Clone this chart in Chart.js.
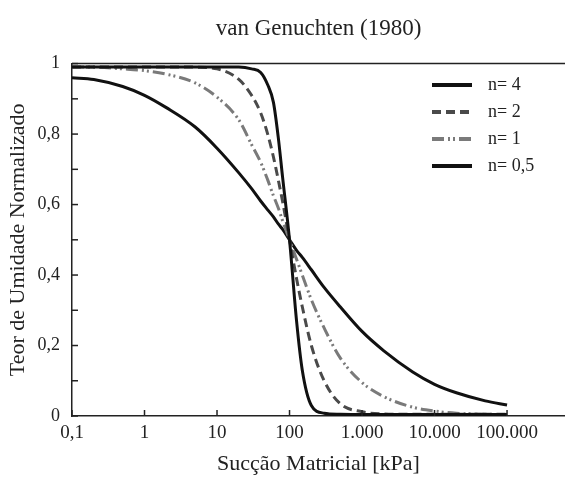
<!DOCTYPE html>
<html>
<head>
<meta charset="utf-8">
<script src="https://cdn.jsdelivr.net/npm/chart.js@4.4.1/dist/chart.umd.min.js"></script>
<style>
  html, body { margin: 0; padding: 0; background: #fff; }
  #wrap { width: 565px; height: 477px; }
</style>
</head>
<body>
<div id="wrap"><canvas id="myChart" width="565" height="477"></canvas></div>
<script>

// sucção matricial [kPa]
var suction = [0.1, 0.2, 0.5, 1, 2, 5, 10, 20, 30, 40, 50, 60, 70, 80, 100, 125, 150, 200, 300, 500, 1000, 2000, 5000, 10000, 20000, 50000, 100000];

// teor de umidade normalizado
var n4  = [0.99, 0.99, 0.99, 0.99, 0.99, 0.99, 0.99, 0.99, 0.985, 0.975, 0.94, 0.89, 0.79, 0.68, 0.50, 0.27, 0.13, 0.03, 0.008, 0.005, 0.004, 0.004, 0.004, 0.004, 0.004, 0.004, 0.004];
var n2  = [0.99, 0.99, 0.99, 0.99, 0.99, 0.99, 0.985, 0.955, 0.91, 0.86, 0.80, 0.735, 0.67, 0.61, 0.50, 0.39, 0.31, 0.20, 0.10, 0.035, 0.012, 0.006, 0.005, 0.005, 0.005, 0.005, 0.005];
var n1  = [0.99, 0.99, 0.985, 0.98, 0.97, 0.945, 0.905, 0.84, 0.77, 0.72, 0.67, 0.625, 0.59, 0.555, 0.50, 0.445, 0.40, 0.33, 0.25, 0.165, 0.095, 0.055, 0.025, 0.014, 0.008, 0.005, 0.004];
var n05 = [0.96, 0.955, 0.935, 0.91, 0.875, 0.82, 0.76, 0.69, 0.645, 0.61, 0.585, 0.565, 0.545, 0.53, 0.50, 0.47, 0.45, 0.415, 0.365, 0.31, 0.24, 0.185, 0.125, 0.09, 0.066, 0.043, 0.031];

var seriesLabels = ['n= 4', 'n= 2', 'n= 1', 'n= 0,5'];

var xTickValues = [0.1, 1, 10, 100, 1000, 10000, 100000];
var xTickLabels = ['0,1', '1', '10', '100', '1.000', '10.000', '100.000'];
var yTickValues = [0, 0.2, 0.4, 0.6, 0.8, 1];
var yTickLabels = ['0', '0,2', '0,4', '0,6', '0,8', '1'];

var serif = "'Liberation Serif', 'Times New Roman', serif";

function pts(values){
  return suction.map(function(s, i){ return { x: s, y: values[i] }; });
}

// marcas internas dos eixos, linha superior e legenda
var framePlugin = {
  id: 'frame',
  afterDatasetsDraw: function(chart){
    var ctx = chart.ctx;
    var area = chart.chartArea;
    var xs = chart.scales.x;
    var ys = chart.scales.y;

    ctx.save();
    ctx.strokeStyle = '#222';
    ctx.lineWidth = 1.5;

    // linha superior
    ctx.beginPath();
    ctx.moveTo(area.left, area.top);
    ctx.lineTo(area.right, area.top);
    ctx.stroke();

    // ticks x
    xs.ticks.forEach(function(t){
      var px = xs.getPixelForValue(t.value);
      ctx.beginPath();
      ctx.moveTo(px, area.bottom);
      ctx.lineTo(px, area.bottom - 6);
      ctx.stroke();
    });

    // ticks y
    ys.ticks.forEach(function(t){
      var py = ys.getPixelForValue(t.value);
      ctx.beginPath();
      ctx.moveTo(area.left, py);
      ctx.lineTo(area.left + 6, py);
      ctx.stroke();
    });

    // legenda
    var lx = 432, ly = 85, step = 27;
    chart.data.datasets.forEach(function(ds, i){
      var y = ly + i * step;
      ctx.save();
      ctx.strokeStyle = ds.borderColor;
      ctx.lineWidth = 4;
      ctx.setLineDash(ds.borderDash || []);
      ctx.beginPath();
      ctx.moveTo(lx, y);
      ctx.lineTo(lx + 40, y);
      ctx.stroke();
      ctx.restore();

      ctx.fillStyle = '#222';
      ctx.font = "18px " + serif;
      ctx.textBaseline = 'middle';
      ctx.textAlign = 'left';
      ctx.fillText(ds.label, lx + 56, y);
    });

    ctx.restore();
  }
};

var ctx = document.getElementById('myChart');
var chart = new Chart(ctx, {

  type: 'line',

  data: {
    datasets: [{
      label: seriesLabels[0],
      data: pts(n4),
      borderColor: '#111',
      borderWidth: 3
    }, {
      label: seriesLabels[1],
      data: pts(n2),
      borderColor: '#4a4a4a',
      borderWidth: 3,
      borderDash: [9, 5]
    }, {
      label: seriesLabels[2],
      data: pts(n1),
      borderColor: '#7a7a7a',
      borderWidth: 3,
      borderDash: [12, 4, 2, 3, 2, 4]
    }, {
      label: seriesLabels[3],
      data: pts(n05),
      borderColor: '#111',
      borderWidth: 3
    }]
  },

  options: {
    responsive: false,
    animation: false,
    layout: { padding: 0 },
    elements: {
      point: { radius: 0 },
      line: { cubicInterpolationMode: 'monotone', fill: false }
    },
    plugins: {
      legend: { display: false },
      tooltip: { enabled: false },
      title: {
        display: true,
        fullSize: false,
        text: 'van Genuchten (1980)',
        color: '#222',
        font: { family: serif, size: 23, weight: 'normal', lineHeight: 1.2 },
        padding: { top: 15, bottom: 21 }
      }
    },
    scales: {
      x: {
        type: 'logarithmic',
        min: 0.1,
        max: 630000,
        afterBuildTicks: function(scale){
          scale.ticks = xTickValues.map(function(v){ return { value: v }; });
        },
        afterFit: function(scale){ scale.height = 61; },
        grid: { display: false, drawTicks: false },
        border: { display: true, color: '#222', width: 1.5 },
        ticks: {
          autoSkip: false,
          maxRotation: 0,
          padding: 6,
          color: '#222',
          font: { family: serif, size: 19 },
          callback: function(value){
            var i = xTickValues.indexOf(value);
            return i >= 0 ? xTickLabels[i] : '';
          }
        },
        title: {
          display: true,
          text: 'Sucção Matricial [kPa]',
          color: '#222',
          font: { family: serif, size: 22, lineHeight: 1.2 },
          padding: { top: 0, bottom: 0 }
        }
      },
      y: {
        min: 0,
        max: 1,
        afterFit: function(scale){ scale.width = 72; },
        grid: { display: false, drawTicks: false },
        border: { display: true, color: '#222', width: 1.5 },
        ticks: {
          stepSize: 0.1,
          padding: 12,
          color: '#222',
          font: { family: serif, size: 18 },
          callback: function(value){
            for (var i = 0; i < yTickValues.length; i++) {
              if (Math.abs(yTickValues[i] - value) < 1e-6) return yTickLabels[i];
            }
            return '';
          }
        },
        title: {
          display: true,
          text: 'Teor de Umidade Normalizado',
          color: '#222',
          font: { family: serif, size: 22, lineHeight: 1.2 },
          padding: { top: 5, bottom: 0 }
        }
      }
    }
  },

  plugins: [framePlugin]
});

</script>
</body>
</html>
